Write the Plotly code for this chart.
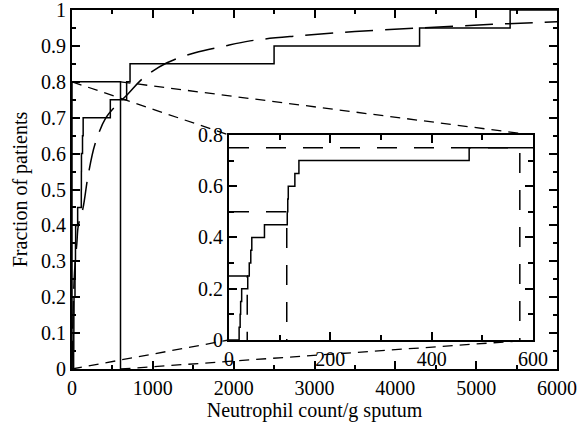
import plotly.graph_objects as go

# ---------------- data ----------------
# empirical cumulative distribution (solid steps)
ecdf_x = [0, 20, 22, 23, 25, 37, 40, 43, 45, 70, 115, 116, 117, 130, 138,
          474, 676, 718, 2500, 4300, 5420, 6000]
ecdf_y = [0, 0.05, 0.10, 0.15, 0.20, 0.25, 0.30, 0.35, 0.40, 0.45, 0.50,
          0.55, 0.60, 0.65, 0.70, 0.75, 0.80, 0.85, 0.90, 0.95, 1.00, 1.00]

# fitted distribution curve (long dashes)
model_x = [0, 10, 25, 40, 60, 75, 100, 136, 200, 285, 420, 550, 680, 880,
           1175, 1522, 1856, 2203, 2800, 3500, 4300, 5200, 6000]
model_y = [0, 0.12, 0.24, 0.30, 0.35, 0.395, 0.42, 0.448, 0.54, 0.627, 0.70,
           0.735, 0.763, 0.81, 0.853, 0.881, 0.898, 0.914, 0.928, 0.94,
           0.95, 0.96, 0.967]

# quartiles shown in the inset
quartile_p = [0.25, 0.50, 0.75]
quartile_x = [36, 114, 574]

# zoom window (main plot) = inset ranges
zoom_x = [0, 600]
zoom_y = [0, 0.8]

main_x_range = [0, 6000]
main_y_range = [0, 1]

main_x_ticks = [0, 1000, 2000, 3000, 4000, 5000, 6000]
main_y_ticks = [0, 0.1, 0.2, 0.3, 0.4, 0.5, 0.6, 0.7, 0.8, 0.9, 1]
inset_x_ticks = [0, 200, 400, 600]
inset_y_ticks = [0, 0.2, 0.4, 0.6, 0.8]

# inset placement (fraction of main plotting area)
inset_dom_x = [0.3237, 0.9505]
inset_dom_y = [0.0808, 0.6518]

FONT = "Liberation Serif, Times New Roman, serif"
FS = 20

fig = go.Figure()

# ---- main plot ----
fig.add_trace(go.Scatter(x=ecdf_x, y=ecdf_y, mode="lines", line_shape="hv",
                         line=dict(color="black", width=1.5),
                         xaxis="x", yaxis="y", showlegend=False))
fig.add_trace(go.Scatter(x=model_x, y=model_y, mode="lines",
                         line=dict(color="black", width=1.5, dash="28px,12px"),
                         line_shape="spline",
                         xaxis="x", yaxis="y", showlegend=False))
# zoom rectangle
fig.add_trace(go.Scatter(x=[zoom_x[0], zoom_x[0], zoom_x[1], zoom_x[1]],
                         y=[zoom_y[0], zoom_y[1], zoom_y[1], zoom_y[0]],
                         mode="lines", line=dict(color="black", width=1.5),
                         xaxis="x", yaxis="y", showlegend=False))
# connectors from zoom rectangle to inset corners (in main data coords)
span_x = main_x_range[1] - main_x_range[0]
span_y = main_y_range[1] - main_y_range[0]
ix0 = main_x_range[0] + inset_dom_x[0] * span_x
ix1 = main_x_range[0] + inset_dom_x[1] * span_x
iy0 = main_y_range[0] + inset_dom_y[0] * span_y
iy1 = main_y_range[0] + inset_dom_y[1] * span_y
cx = [zoom_x[0], ix0, None, zoom_x[1], ix1, None,
      zoom_x[0], ix0, None, zoom_x[1], ix1]
cy = [zoom_y[1], iy1, None, zoom_y[1], iy1, None,
      zoom_y[0], iy0, None, zoom_y[0], iy0]
fig.add_trace(go.Scatter(x=cx, y=cy, mode="lines",
                         line=dict(color="black", width=1.3, dash="10px,7px"),
                         xaxis="x", yaxis="y", showlegend=False, cliponaxis=False))

# ---- inset ----
fig.add_trace(go.Scatter(x=ecdf_x, y=ecdf_y, mode="lines", line_shape="hv",
                         line=dict(color="black", width=1.5),
                         xaxis="x2", yaxis="y2", showlegend=False))
qx, qy = [], []
for p, q in zip(quartile_p, quartile_x):
    qx += [0, q, q, None]
    qy += [p, p, 0, None]
fig.add_trace(go.Scatter(x=qx, y=qy, mode="lines",
                         line=dict(color="black", width=1.5, dash="20px,17px"),
                         xaxis="x2", yaxis="y2", showlegend=False))

axis_common = dict(showline=True, linewidth=2, linecolor="black", mirror="allticks",
                   ticks="inside", tickcolor="black", tickwidth=1.5,
                   showgrid=False, zeroline=False, automargin=False,
                   ticklabeloverflow="allow",
                   tickfont=dict(family=FONT, size=FS, color="black"))

fig.update_layout(
    width=584, height=429,
    margin=dict(l=72, r=27, t=10, b=60),
    paper_bgcolor="white", plot_bgcolor="white",
    font=dict(family=FONT, size=FS, color="black"),
    xaxis=dict(range=main_x_range, tickvals=main_x_ticks, ticklen=8,
               minor=dict(ticks="inside", ticklen=4, dtick=500, tickcolor="black"),
               title=dict(text="Neutrophil count/g sputum", standoff=4,
                          font=dict(family=FONT, size=FS)),
               domain=[0, 1], anchor="y", **axis_common),
    yaxis=dict(range=main_y_range, tickvals=main_y_ticks, ticklen=8,
               minor=dict(ticks="inside", ticklen=4, dtick=0.05, tickcolor="black"),
               title=dict(text="Fraction of patients", standoff=8,
                          font=dict(family=FONT, size=FS)),
               domain=[0, 1], anchor="x", **axis_common),
    xaxis2=dict(range=zoom_x, tickvals=inset_x_ticks, ticklen=8,
                minor=dict(ticks="inside", ticklen=5, dtick=100, tickcolor="black"),
                domain=inset_dom_x, anchor="y2", **axis_common),
    yaxis2=dict(range=zoom_y, tickvals=inset_y_ticks, ticklen=8,
                minor=dict(ticks="inside", ticklen=5, dtick=0.1, tickcolor="black"),
                domain=inset_dom_y, anchor="x2", **axis_common),
)

fig.write_html("out.html", config={"displayModeBar": False},
               post_script="document.body.style.margin='0';document.body.style.padding='0';")
